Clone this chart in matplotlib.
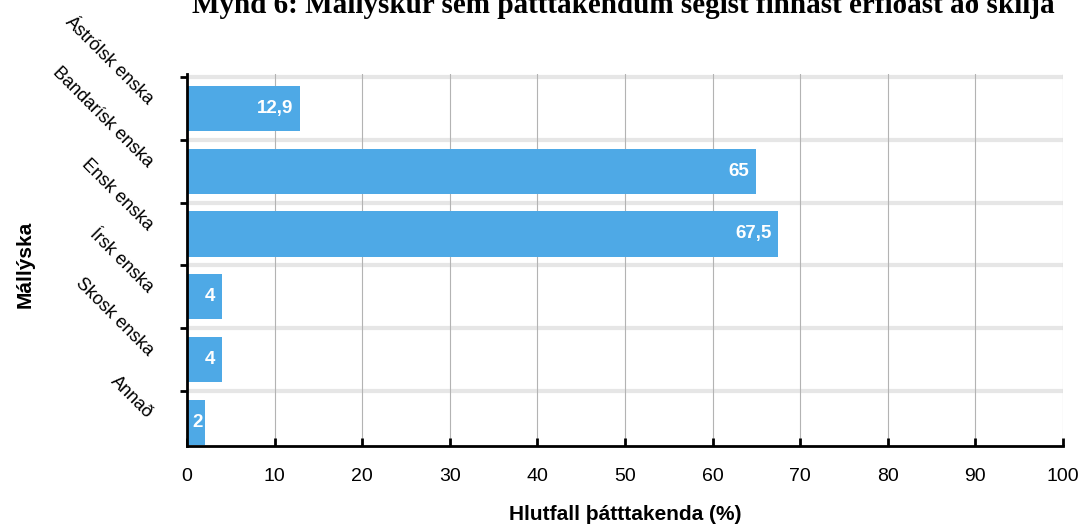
import matplotlib.pyplot as plt
import numpy as np

plt.rcParams['font.family'] = ['Liberation Sans', 'DejaVu Sans']

title = "Mynd 6: Mállýskur sem þátttakendum segist finnast erfiðast að skilja"
categories = ["Ástrólsk enska", "Bandarísk enska", "Ensk enska", "Írsk enska", "Skosk enska", "Annað"]
values = [12.9, 65, 67.5, 4, 4, 2]
value_labels = ["12,9", "65", "67,5", "4", "4", "2"]
xticks = [0, 10, 20, 30, 40, 50, 60, 70, 80, 90, 100]

fig = plt.figure(figsize=(10.81, 5.25), dpi=100)
ax = fig.add_axes([187/1081, 1 - 446/525, 876/1081, 372/525])

y = np.arange(len(categories))
ax.barh(y, values, height=0.72, color='#4EA9E6', zorder=3)

ax.set_xlim(0, 100)
ax.set_ylim(5.38, -0.55)

# category separators
bounds = np.arange(len(categories)) - 0.5
for b in bounds:
    ax.axhline(b, color='#e6e6e6', lw=3, zorder=1)
ax.set_yticks(bounds)
ax.set_yticklabels([])
ax.tick_params(axis='y', direction='out', length=5, width=2, color='black')

ax.set_xticks(xticks)
ax.set_xticklabels([str(t) for t in xticks], fontsize=14)
ax.tick_params(axis='x', direction='in', length=6, width=2, color='black', pad=16)
ax.xaxis.grid(True, color='#b3b3b3', lw=0.8, zorder=0)

for s in ['top', 'right']:
    ax.spines[s].set_visible(False)
for s in ['left', 'bottom']:
    ax.spines[s].set_linewidth(2)
    ax.spines[s].set_zorder(5)

# value labels sit inside the bar end; short bars keep a minimum position
for i, (v, lab) in enumerate(zip(values, value_labels)):
    xpos = max(v - 0.8, 1.85)
    ax.text(xpos, i, lab, ha='right', va='center', color='white', fontsize=13.5,
            fontweight='bold', zorder=4)

for i, cat in enumerate(categories):
    ax.text(-0.042, i - 0.1, cat, transform=ax.get_yaxis_transform(),
            rotation=-45, rotation_mode='anchor', ha='right', va='center',
            fontsize=13)

ax.set_xlabel("Hlutfall þátttakenda (%)", fontsize=15, fontweight='bold', labelpad=14)
fig.text(25/1081, 1 - 264/525, "Mállýska", rotation=90, ha='center', va='center',
         fontsize=15, fontweight='bold')

fig.text(623/1081, 1 - 13/525, title, ha='center', va='baseline',
         fontsize=21, fontweight='bold', family='Liberation Serif')

fig.savefig("out.png", dpi=100)
